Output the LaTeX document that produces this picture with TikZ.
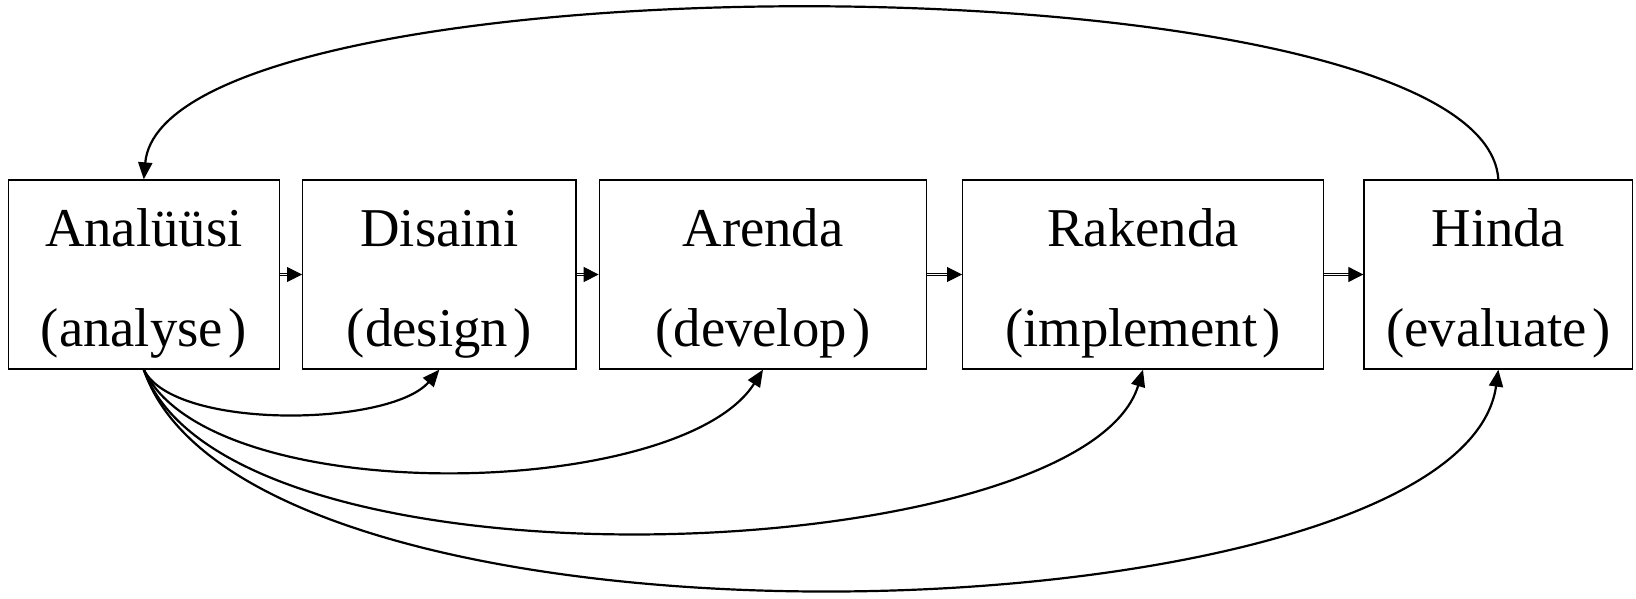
\documentclass[tikz,border=0pt]{standalone}
\usepackage{fontspec}
\setmainfont{Liberation Serif}
\usetikzlibrary{arrows.meta}

\begin{document}
\begin{tikzpicture}[x=1pt,y=-1pt,
  stagebox/.style={draw=black, line width=1.3pt, rectangle, inner sep=0pt,
                   minimum height=189pt},
  word/.style={inner sep=0pt, anchor=base,
               font=\fontsize{54.7}{60}\selectfont},
  flow/.style={line width=0.8pt, double, double distance=1.2pt,
               -{Triangle[length=15pt,width=15pt]}},
  loop/.style={line width=2.2pt, line cap=round,
               -{Triangle[length=17pt,width=14pt]}}]

\useasboundingbox (0,0) rectangle (1636,599);

% the five stages
\node[stagebox, minimum width=271pt]   (ana) at (143.8,274.5) {};
\node[stagebox, minimum width=273.3pt] (dis) at (439.35,274.5) {};
\node[stagebox, minimum width=327.4pt] (are) at (763,274.5) {};
\node[stagebox, minimum width=360.6pt] (rak) at (1143,274.5) {};
\node[stagebox, minimum width=268.7pt] (hin) at (1498.35,274.5) {};

% text baselines
\coordinate (row1) at (0,246.7);
\coordinate (row2) at (0,346.7);

\node[word] (anaA) at (ana |- row1) {Analüüsi};
\node[word] (anaB) at (ana |- row2) {(analyse\kern0.1em)};
\node[word] (disA) at (dis |- row1) {Disaini};
\node[word] (disB) at (dis |- row2) {(design\kern0.1em)};
\node[word] (areA) at (are |- row1) {Arenda};
\node[word] (areB) at (are |- row2) {(develop\kern0.1em)};
\node[word] (rakA) at (rak |- row1) {Rakenda};
\node[word] (rakB) at (rak |- row2) {(implement\kern0.1em)};
\node[word] (hinA) at (hin |- row1) {Hinda};
\node[word] (hinB) at (hin |- row2) {(evaluate\kern0.1em)};

% straight flow between neighbouring stages
\draw[flow] (ana.east) -- (dis.west);
\draw[flow] (dis.east) -- (are.west);
\draw[flow] (are.east) -- (rak.west);
\draw[flow] (rak.east) -- (hin.west);

% feedback from evaluation back to analysis
\draw[loop] (hin.north) .. controls +(-15,-228) and +(20,-228) .. (ana.north);

% analysis feeding every later stage
\draw[loop] (ana.south) .. controls +(30,61)   and +(-49,57)  .. (dis.south);
\draw[loop] (ana.south) .. controls +(66,141)  and +(-83,131) .. (are.south);
\draw[loop] (ana.south) .. controls +(86,236)  and +(-60,198) .. (rak.south);
\draw[loop] (ana.south) .. controls +(106,313) and +(-38,273) .. (hin.south);

\end{tikzpicture}
\end{document}
